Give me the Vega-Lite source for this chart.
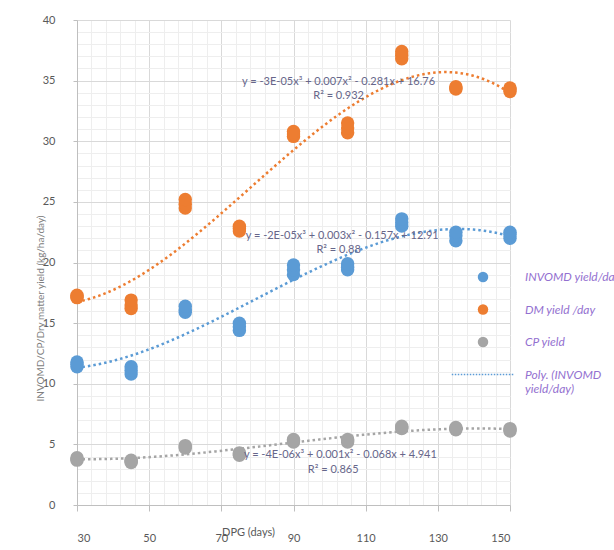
{
  "$schema": "https://vega.github.io/schema/vega-lite/v6.json",
  "width": 433,
  "height": 485,
  "autosize": "none",
  "padding": {"left": 77, "top": 20, "right": 104, "bottom": 45},
  "background": "white",
  "config": {"view": {"stroke": null}, "font": "Lato"},
  "datasets": {
    "pts": [
      {"dpg": 30, "series": "INVOMD yield/day", "yield": 11.4},
      {"dpg": 30, "series": "INVOMD yield/day", "yield": 11.6},
      {"dpg": 30, "series": "INVOMD yield/day", "yield": 11.8},
      {"dpg": 45, "series": "INVOMD yield/day", "yield": 10.8},
      {"dpg": 45, "series": "INVOMD yield/day", "yield": 11.1},
      {"dpg": 45, "series": "INVOMD yield/day", "yield": 11.4},
      {"dpg": 60, "series": "INVOMD yield/day", "yield": 15.9},
      {"dpg": 60, "series": "INVOMD yield/day", "yield": 16.1},
      {"dpg": 60, "series": "INVOMD yield/day", "yield": 16.4},
      {"dpg": 75, "series": "INVOMD yield/day", "yield": 14.4},
      {"dpg": 75, "series": "INVOMD yield/day", "yield": 14.7},
      {"dpg": 75, "series": "INVOMD yield/day", "yield": 15.0},
      {"dpg": 90, "series": "INVOMD yield/day", "yield": 19.0},
      {"dpg": 90, "series": "INVOMD yield/day", "yield": 19.4},
      {"dpg": 90, "series": "INVOMD yield/day", "yield": 19.8},
      {"dpg": 105, "series": "INVOMD yield/day", "yield": 19.4},
      {"dpg": 105, "series": "INVOMD yield/day", "yield": 19.6},
      {"dpg": 105, "series": "INVOMD yield/day", "yield": 19.9},
      {"dpg": 120, "series": "INVOMD yield/day", "yield": 23.0},
      {"dpg": 120, "series": "INVOMD yield/day", "yield": 23.3},
      {"dpg": 120, "series": "INVOMD yield/day", "yield": 23.6},
      {"dpg": 135, "series": "INVOMD yield/day", "yield": 21.8},
      {"dpg": 135, "series": "INVOMD yield/day", "yield": 22.2},
      {"dpg": 135, "series": "INVOMD yield/day", "yield": 22.5},
      {"dpg": 150, "series": "INVOMD yield/day", "yield": 22.0},
      {"dpg": 150, "series": "INVOMD yield/day", "yield": 22.3},
      {"dpg": 150, "series": "INVOMD yield/day", "yield": 22.5},
      {"dpg": 30, "series": "DM yield /day", "yield": 17.1},
      {"dpg": 30, "series": "DM yield /day", "yield": 17.2},
      {"dpg": 30, "series": "DM yield /day", "yield": 17.3},
      {"dpg": 45, "series": "DM yield /day", "yield": 16.2},
      {"dpg": 45, "series": "DM yield /day", "yield": 16.5},
      {"dpg": 45, "series": "DM yield /day", "yield": 16.9},
      {"dpg": 60, "series": "DM yield /day", "yield": 24.5},
      {"dpg": 60, "series": "DM yield /day", "yield": 24.8},
      {"dpg": 60, "series": "DM yield /day", "yield": 25.2},
      {"dpg": 75, "series": "DM yield /day", "yield": 22.6},
      {"dpg": 75, "series": "DM yield /day", "yield": 22.8},
      {"dpg": 75, "series": "DM yield /day", "yield": 23.0},
      {"dpg": 90, "series": "DM yield /day", "yield": 30.4},
      {"dpg": 90, "series": "DM yield /day", "yield": 30.6},
      {"dpg": 90, "series": "DM yield /day", "yield": 30.8},
      {"dpg": 105, "series": "DM yield /day", "yield": 30.7},
      {"dpg": 105, "series": "DM yield /day", "yield": 31.1},
      {"dpg": 105, "series": "DM yield /day", "yield": 31.5},
      {"dpg": 120, "series": "DM yield /day", "yield": 36.8},
      {"dpg": 120, "series": "DM yield /day", "yield": 37.1},
      {"dpg": 120, "series": "DM yield /day", "yield": 37.4},
      {"dpg": 135, "series": "DM yield /day", "yield": 34.3},
      {"dpg": 135, "series": "DM yield /day", "yield": 34.4},
      {"dpg": 135, "series": "DM yield /day", "yield": 34.5},
      {"dpg": 150, "series": "DM yield /day", "yield": 34.1},
      {"dpg": 150, "series": "DM yield /day", "yield": 34.3},
      {"dpg": 150, "series": "DM yield /day", "yield": 34.4},
      {"dpg": 30, "series": "CP yield", "yield": 3.7},
      {"dpg": 30, "series": "CP yield", "yield": 3.8},
      {"dpg": 30, "series": "CP yield", "yield": 3.9},
      {"dpg": 45, "series": "CP yield", "yield": 3.5},
      {"dpg": 45, "series": "CP yield", "yield": 3.6},
      {"dpg": 45, "series": "CP yield", "yield": 3.7},
      {"dpg": 60, "series": "CP yield", "yield": 4.7},
      {"dpg": 60, "series": "CP yield", "yield": 4.8},
      {"dpg": 60, "series": "CP yield", "yield": 4.9},
      {"dpg": 75, "series": "CP yield", "yield": 4.1},
      {"dpg": 75, "series": "CP yield", "yield": 4.2},
      {"dpg": 75, "series": "CP yield", "yield": 4.3},
      {"dpg": 90, "series": "CP yield", "yield": 5.2},
      {"dpg": 90, "series": "CP yield", "yield": 5.3},
      {"dpg": 90, "series": "CP yield", "yield": 5.4},
      {"dpg": 105, "series": "CP yield", "yield": 5.2},
      {"dpg": 105, "series": "CP yield", "yield": 5.3},
      {"dpg": 105, "series": "CP yield", "yield": 5.4},
      {"dpg": 120, "series": "CP yield", "yield": 6.3},
      {"dpg": 120, "series": "CP yield", "yield": 6.4},
      {"dpg": 120, "series": "CP yield", "yield": 6.5},
      {"dpg": 135, "series": "CP yield", "yield": 6.2},
      {"dpg": 135, "series": "CP yield", "yield": 6.3},
      {"dpg": 135, "series": "CP yield", "yield": 6.4},
      {"dpg": 150, "series": "CP yield", "yield": 6.1},
      {"dpg": 150, "series": "CP yield", "yield": 6.2},
      {"dpg": 150, "series": "CP yield", "yield": 6.3}
    ],
    "eqs": [
      {"dpg": 102.5, "yield": 34.85, "label": "y = -3E-05x³ + 0.007x² - 0.281x + 16.76"},
      {"dpg": 102.5, "yield": 33.75, "label": "R² = 0.932"},
      {"dpg": 103.5, "yield": 22.2, "label": "y = -2E-05x³ + 0.003x² - 0.157x + 12.91"},
      {"dpg": 102.5, "yield": 21.05, "label": "R² = 0.88"},
      {"dpg": 103, "yield": 4.1, "label": "y = -4E-06x³ + 0.001x² - 0.068x + 4.941"},
      {"dpg": 101, "yield": 2.85, "label": "R² = 0.865"}
    ]
  },
  "layer": [
    {
      "data": {"name": "pts"},
      "transform": [
        {"regression": "yield", "on": "dpg", "groupby": ["series"], "method": "poly", "order": 3, "extent": [30, 150]}
      ],
      "mark": {"type": "line", "strokeWidth": 2.5, "strokeDash": [2.5, 3], "clip": true},
      "encoding": {
        "x": {"field": "dpg", "type": "quantitative",
          "scale": {"domain": [30, 150], "nice": false, "zero": false},
          "axis": {"orient": "top", "values": [34,38,42,46,54,58,62,66,74,78,82,86,94,98,102,106,114,118,122,126,134,138,142,146],
            "grid": true, "gridColor": "#eeeeee", "gridWidth": 1, "labels": false, "ticks": false, "domain": false, "title": null}},
        "y": {"field": "yield", "type": "quantitative",
          "scale": {"domain": [0, 40], "nice": false, "zero": true},
          "axis": {"orient": "right", "values": [1,2,3,4,6,7,8,9,11,12,13,14,16,17,18,19,21,22,23,24,26,27,28,29,31,32,33,34,36,37,38,39],
            "grid": true, "gridColor": "#eeeeee", "gridWidth": 1, "labels": false, "ticks": false, "domain": false, "title": null}},
        "color": {"field": "series", "type": "nominal",
          "scale": {"domain": ["INVOMD yield/day", "DM yield /day", "CP yield", "Poly. (INVOMD yield/day)"],
            "range": ["#5B9BD5", "#ED7D31", "#A5A5A5", "#5B9BD5"]},
          "legend": {
            "orient": "none", "legendX": 400, "legendY": 251, "title": null,
            "symbolType": "circle", "symbolSize": 110,
            "labelFont": "Lato", "labelFontStyle": "italic", "labelFontWeight": "normal", "labelColor": "#9370d0", "labelFontSize": 12,
            "labelOffset": 36, "rowPadding": 20.5, "labelLimit": 200,
            "labelExpr": "datum.label == 'Poly. (INVOMD yield/day)' ? ['Poly. (INVOMD', 'yield/day)'] : datum.label",
            "encode": {"symbols": {"update": {
              "shape": {"signal": "datum.value == 'Poly. (INVOMD yield/day)' ? 'stroke' : 'circle'"},
              "size": {"signal": "datum.value == 'Poly. (INVOMD yield/day)' ? 3900 : 110"},
              "fill": {"signal": "datum.value == 'Poly. (INVOMD yield/day)' ? 'transparent' : scale('color', datum.value)"},
              "strokeDash": {"signal": "datum.value == 'Poly. (INVOMD yield/day)' ? [1.5, 1.5] : [1, 0]"},
              "stroke": {"value": "#5B9BD5"},
              "strokeWidth": {"signal": "datum.value == 'Poly. (INVOMD yield/day)' ? 1.5 : 0"}
            }}}
          }},
        "detail": {"field": "series"}
      }
    },
    {
      "data": {"name": "pts"},
      "mark": {"type": "circle", "size": 180, "opacity": 1},
      "encoding": {
        "x": {"field": "dpg", "type": "quantitative",
          "axis": {"orient": "bottom", "values": [30, 50, 70, 90, 110, 130, 150],
            "grid": true, "gridColor": "#d9d9d9", "domainColor": "#bfbfbf", "tickColor": "#bfbfbf", "tickSize": 6,
            "labelColor": "#595959", "labelFontSize": 11, "labelPadding": 21, "labelFont": "Lato",
            "title": "DPG (days)", "titleFont": "Lato", "titleFontWeight": "normal", "titleFontSize": 11, "titleColor": "#595959",
            "titleX": 171, "titleY": 27, "titleBaseline": "middle"}},
        "y": {"field": "yield", "type": "quantitative",
          "axis": {"orient": "left", "values": [0, 5, 10, 15, 20, 25, 30, 35, 40],
            "grid": true, "gridColor": "#d9d9d9", "domainColor": "#bfbfbf", "tickColor": "#bfbfbf", "tickSize": 4,
            "labelColor": "#595959", "labelFontSize": 11, "labelPadding": 18, "labelFont": "Lato",
            "title": "INVOMD/CP/Dry matter yield (kg/ha/day)", "titleFont": "Lato", "titleFontWeight": "normal", "titleFontSize": 10, "titleColor": "#808080",
            "titleX": -37, "titleY": 288, "titleAngle": -90, "titleAlign": "center", "titleBaseline": "middle"}},
        "color": {"field": "series", "type": "nominal"}
      }
    },
    {
      "data": {"name": "eqs"},
      "mark": {"type": "text", "font": "Lato", "fontSize": 11, "color": "#66668a", "align": "center", "baseline": "middle"},
      "encoding": {
        "x": {"field": "dpg", "type": "quantitative", "axis": null},
        "y": {"field": "yield", "type": "quantitative", "axis": null},
        "text": {"field": "label"}
      }
    }
  ],
  "resolve": {"axis": {"x": "independent", "y": "independent"}}
}
